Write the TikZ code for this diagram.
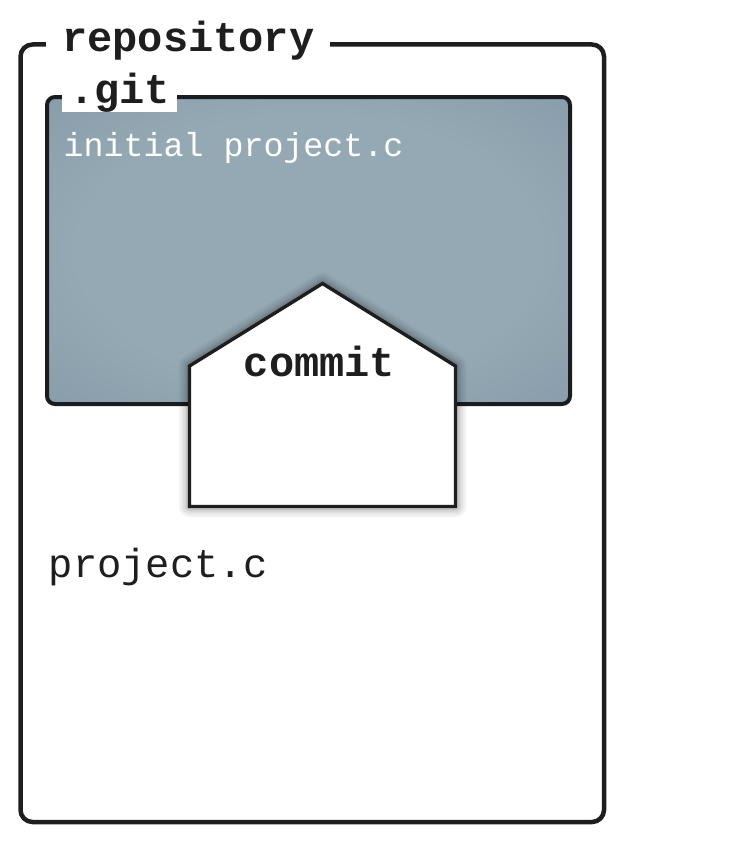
\documentclass[tikz,border=0pt]{standalone}
\usepackage{fontspec}
\setmonofont{Liberation Mono}
\definecolor{ink}{HTML}{1E1E1E}
\definecolor{gitink}{HTML}{191D22}
\definecolor{gitlight}{HTML}{95A9B4}
\definecolor{gitedge}{HTML}{7A919F}
\definecolor{gitcorner}{HTML}{647C8B}
\pgfdeclareradialshading{gitshade}{\pgfpoint{0bp}{0bp}}{color(0bp)=(gitlight); color(22bp)=(gitlight); color(50bp)=(gitedge); color(72bp)=(gitcorner)}
\tikzset{
  boldlabel/.style={font=\ttfamily\bfseries\fontsize{42}{48}\selectfont, text=ink},
  repobox/.style={draw=ink, line width=4.5pt, rounded corners=12pt, rectangle, inner sep=0pt},
  gitbox/.style={draw=gitink, line width=4pt, rounded corners=8pt, rectangle, inner sep=0pt, shading=gitshade},
  commitshape/.style={draw=ink, line width=3.4pt, fill=white, line join=miter},
}
\begin{document}
\begin{tikzpicture}[x=1pt, y=-1pt]
\useasboundingbox (0,0) rectangle (733,851);
% repository box
\node[repobox, minimum width=583.5pt, minimum height=777.5pt] (repo) at (312.25,433.25) {};
\node[boldlabel, fill=white, anchor=base west, inner xsep=16pt, inner ysep=2pt] (repotitle) at (46,52) {repository};
% .git box
\node[gitbox, minimum width=523pt, minimum height=307pt] (git) at (308.5,250.5) {};
\node[boldlabel, fill=white, anchor=base west, inner xsep=7pt, inner ysep=9pt, text depth=0pt] (gittitle) at (62,103) {.git};
\node[font=\ttfamily\fontsize{33.3}{40}\selectfont, text=white, anchor=base west, inner sep=0pt] (initial) at (63.5,156) {initial project.c};
% commit shape with soft shadow
\coordinate (cbl) at (189.5,506.5);
\coordinate (cls) at (189.5,366);
\coordinate (cap) at (322.5,283.5);
\coordinate (crs) at (455.5,366);
\coordinate (cbr) at (455.5,506.5);
\foreach \w/\o in {22/0.035,18/0.04,14/0.05,10/0.06,7/0.07}{
  \draw[line width=\w pt, draw=black, opacity=\o, line join=round] (cbl) -- (cls) -- (cap) -- (crs) -- (cbr) -- cycle;
}
\draw[commitshape] (cbl) -- (cls) -- (cap) -- (crs) -- (cbr) -- cycle;
\node[boldlabel, anchor=base, inner sep=0pt] (commit) at (319.5,376) {commit};
% working tree file
\node[font=\ttfamily\fontsize{40.5}{48}\selectfont, text=ink, anchor=base west, inner sep=0pt] (workfile) at (48.5,577) {project.c};
\end{tikzpicture}
\end{document}
